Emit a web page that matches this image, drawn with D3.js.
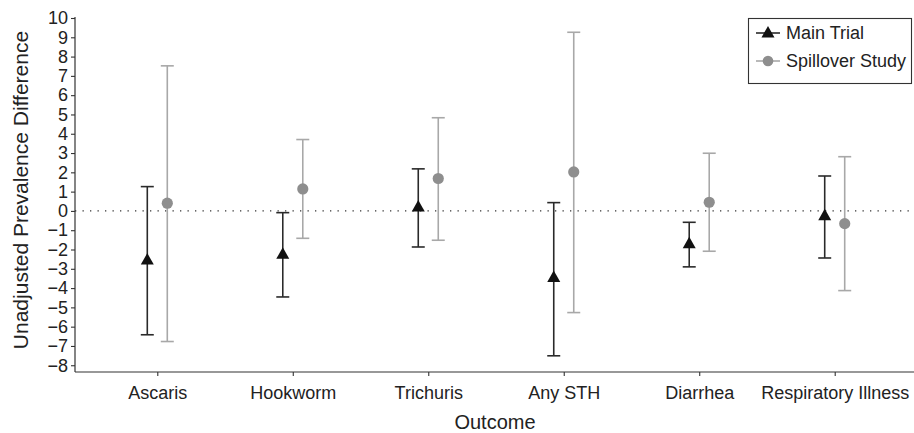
<!DOCTYPE html>
<html>
<head>
<meta charset="utf-8">
<script src="https://cdn.jsdelivr.net/npm/d3@7"></script>
<style>
  html, body { margin: 0; padding: 0; background: #fff; }
  svg { display: block; font-family: "Liberation Sans", Arial, Helvetica, sans-serif; }
</style>
</head>
<body>
<svg id="chart" width="914" height="433"></svg>
<script>
const categories = ["Ascaris", "Hookworm", "Trichuris", "Any STH", "Diarrhea", "Respiratory Illness"];
const mainEst   = [-2.55, -2.25, 0.2, -3.45, -1.7, -0.25];
const mainLow   = [-6.42, -4.46, -1.87, -7.51, -2.9, -2.44];
const mainHigh  = [1.26, -0.09, 2.18, 0.43, -0.59, 1.81];
const spillEst  = [0.4, 1.14, 1.68, 2.02, 0.45, -0.66];
const spillLow  = [-6.77, -1.42, -1.52, -5.27, -2.09, -4.13];
const spillHigh = [7.52, 3.7, 4.83, 9.26, 2.99, 2.81];
const yTicks = [10, 9, 8, 7, 6, 5, 4, 3, 2, 1, 0, -1, -2, -3, -4, -5, -6, -7, -8];
const seriesNames = ["Main Trial", "Spillover Study"];

const svg = d3.select("#chart");
const textColor = "#222";
const mainColor = "#111";
const mainBarColor = "#2a2a2a";
const spillColor = "#8e8e8e";
const spillBarColor = "#a8a8a8";

const y = d3.scaleLinear().domain([-8.35, 10]).range([372, 18]);
const x = d3.scalePoint().domain(categories).range([76, 916]).padding(0.6);
const left = 75, bottom = 372;

// zero reference line
svg.append("line")
  .attr("x1", left).attr("x2", 914)
  .attr("y1", y(0)).attr("y2", y(0))
  .attr("stroke", "#333").attr("stroke-width", 1.3)
  .attr("stroke-dasharray", "1.3,6.2");

// y axis
const yAxis = svg.append("g")
  .attr("transform", `translate(${left},0)`)
  .call(d3.axisLeft(y).tickValues(yTicks).tickSize(4).tickPadding(3)
        .tickFormat(d => d < 0 ? "\u2212" + Math.abs(d) : String(d)));
yAxis.select(".domain").attr("d", `M0,${y(10) - 1}V${bottom}`).attr("stroke", "#333").attr("stroke-width", 1.2);
yAxis.selectAll(".tick line").attr("stroke", "#333").attr("stroke-width", 1.1);
yAxis.selectAll(".tick text").attr("fill", textColor).style("font-size", "18px")
  .attr("font-family", "Liberation Sans, Arial, sans-serif");

// x axis
const xAxis = svg.append("g")
  .attr("transform", `translate(0,${bottom})`)
  .call(d3.axisBottom(x).tickSize(4).tickPadding(10));
xAxis.select(".domain").attr("d", `M${left},0H914`).attr("stroke", "#333").attr("stroke-width", 1.2);
xAxis.selectAll(".tick line").attr("stroke", "#333").attr("stroke-width", 1.1);
xAxis.selectAll(".tick text").attr("fill", textColor).style("font-size", "18px")
  .attr("font-family", "Liberation Sans, Arial, sans-serif");

// titles
svg.append("text")
  .attr("transform", `translate(28,${190}) rotate(-90)`)
  .attr("text-anchor", "middle")
  .attr("fill", textColor)
  .style("font-size", "21px")
  .text("Unadjusted Prevalence Difference");

svg.append("text")
  .attr("x", 495).attr("y", 429)
  .attr("text-anchor", "middle")
  .attr("fill", textColor)
  .style("font-size", "20px")
  .text("Outcome");

const offset = 10, capW = 6.5;
function drawErr(g, cx, lo, hi, color) {
  g.append("line").attr("x1", cx).attr("x2", cx).attr("y1", y(hi)).attr("y2", y(lo))
    .attr("stroke", color).attr("stroke-width", 1.6);
  g.append("line").attr("x1", cx - capW).attr("x2", cx + capW).attr("y1", y(hi)).attr("y2", y(hi))
    .attr("stroke", color).attr("stroke-width", 1.6);
  g.append("line").attr("x1", cx - capW).attr("x2", cx + capW).attr("y1", y(lo)).attr("y2", y(lo))
    .attr("stroke", color).attr("stroke-width", 1.6);
}
const triPath = (cx, cy) => `M${cx},${cy - 7}L${cx + 6.5},${cy + 4.5}L${cx - 6.5},${cy + 4.5}Z`;

const gMain = svg.append("g");
const gSpill = svg.append("g");
categories.forEach((c, i) => {
  const cxM = x(c) - offset, cxS = x(c) + offset;
  drawErr(gMain, cxM, mainLow[i], mainHigh[i], mainBarColor);
  gMain.append("path").attr("d", triPath(cxM, y(mainEst[i]))).attr("fill", mainColor);
  drawErr(gSpill, cxS, spillLow[i], spillHigh[i], spillBarColor);
  gSpill.append("circle").attr("cx", cxS).attr("cy", y(spillEst[i])).attr("r", 5.6).attr("fill", spillColor);
});

// legend
const lg = svg.append("g");
lg.append("rect").attr("x", 748.5).attr("y", 18.5).attr("width", 163).attr("height", 65)
  .attr("fill", "#fff").attr("stroke", "#333").attr("stroke-width", 1.1);
const rows = [33, 61];
// main
lg.append("line").attr("x1", 756).attr("x2", 780).attr("y1", rows[0]).attr("y2", rows[0])
  .attr("stroke", mainBarColor).attr("stroke-width", 1.6);
lg.append("path").attr("d", triPath(768, rows[0])).attr("fill", mainColor);
// spill
lg.append("line").attr("x1", 756).attr("x2", 780).attr("y1", rows[1]).attr("y2", rows[1])
  .attr("stroke", spillBarColor).attr("stroke-width", 1.6);
lg.append("circle").attr("cx", 768).attr("cy", rows[1]).attr("r", 5.3).attr("fill", spillColor);
seriesNames.forEach((n, i) => {
  lg.append("text").attr("x", 786).attr("y", rows[i] + 6)
    .attr("fill", textColor).style("font-size", "18px").text(n);
});
</script>
</body>
</html>
